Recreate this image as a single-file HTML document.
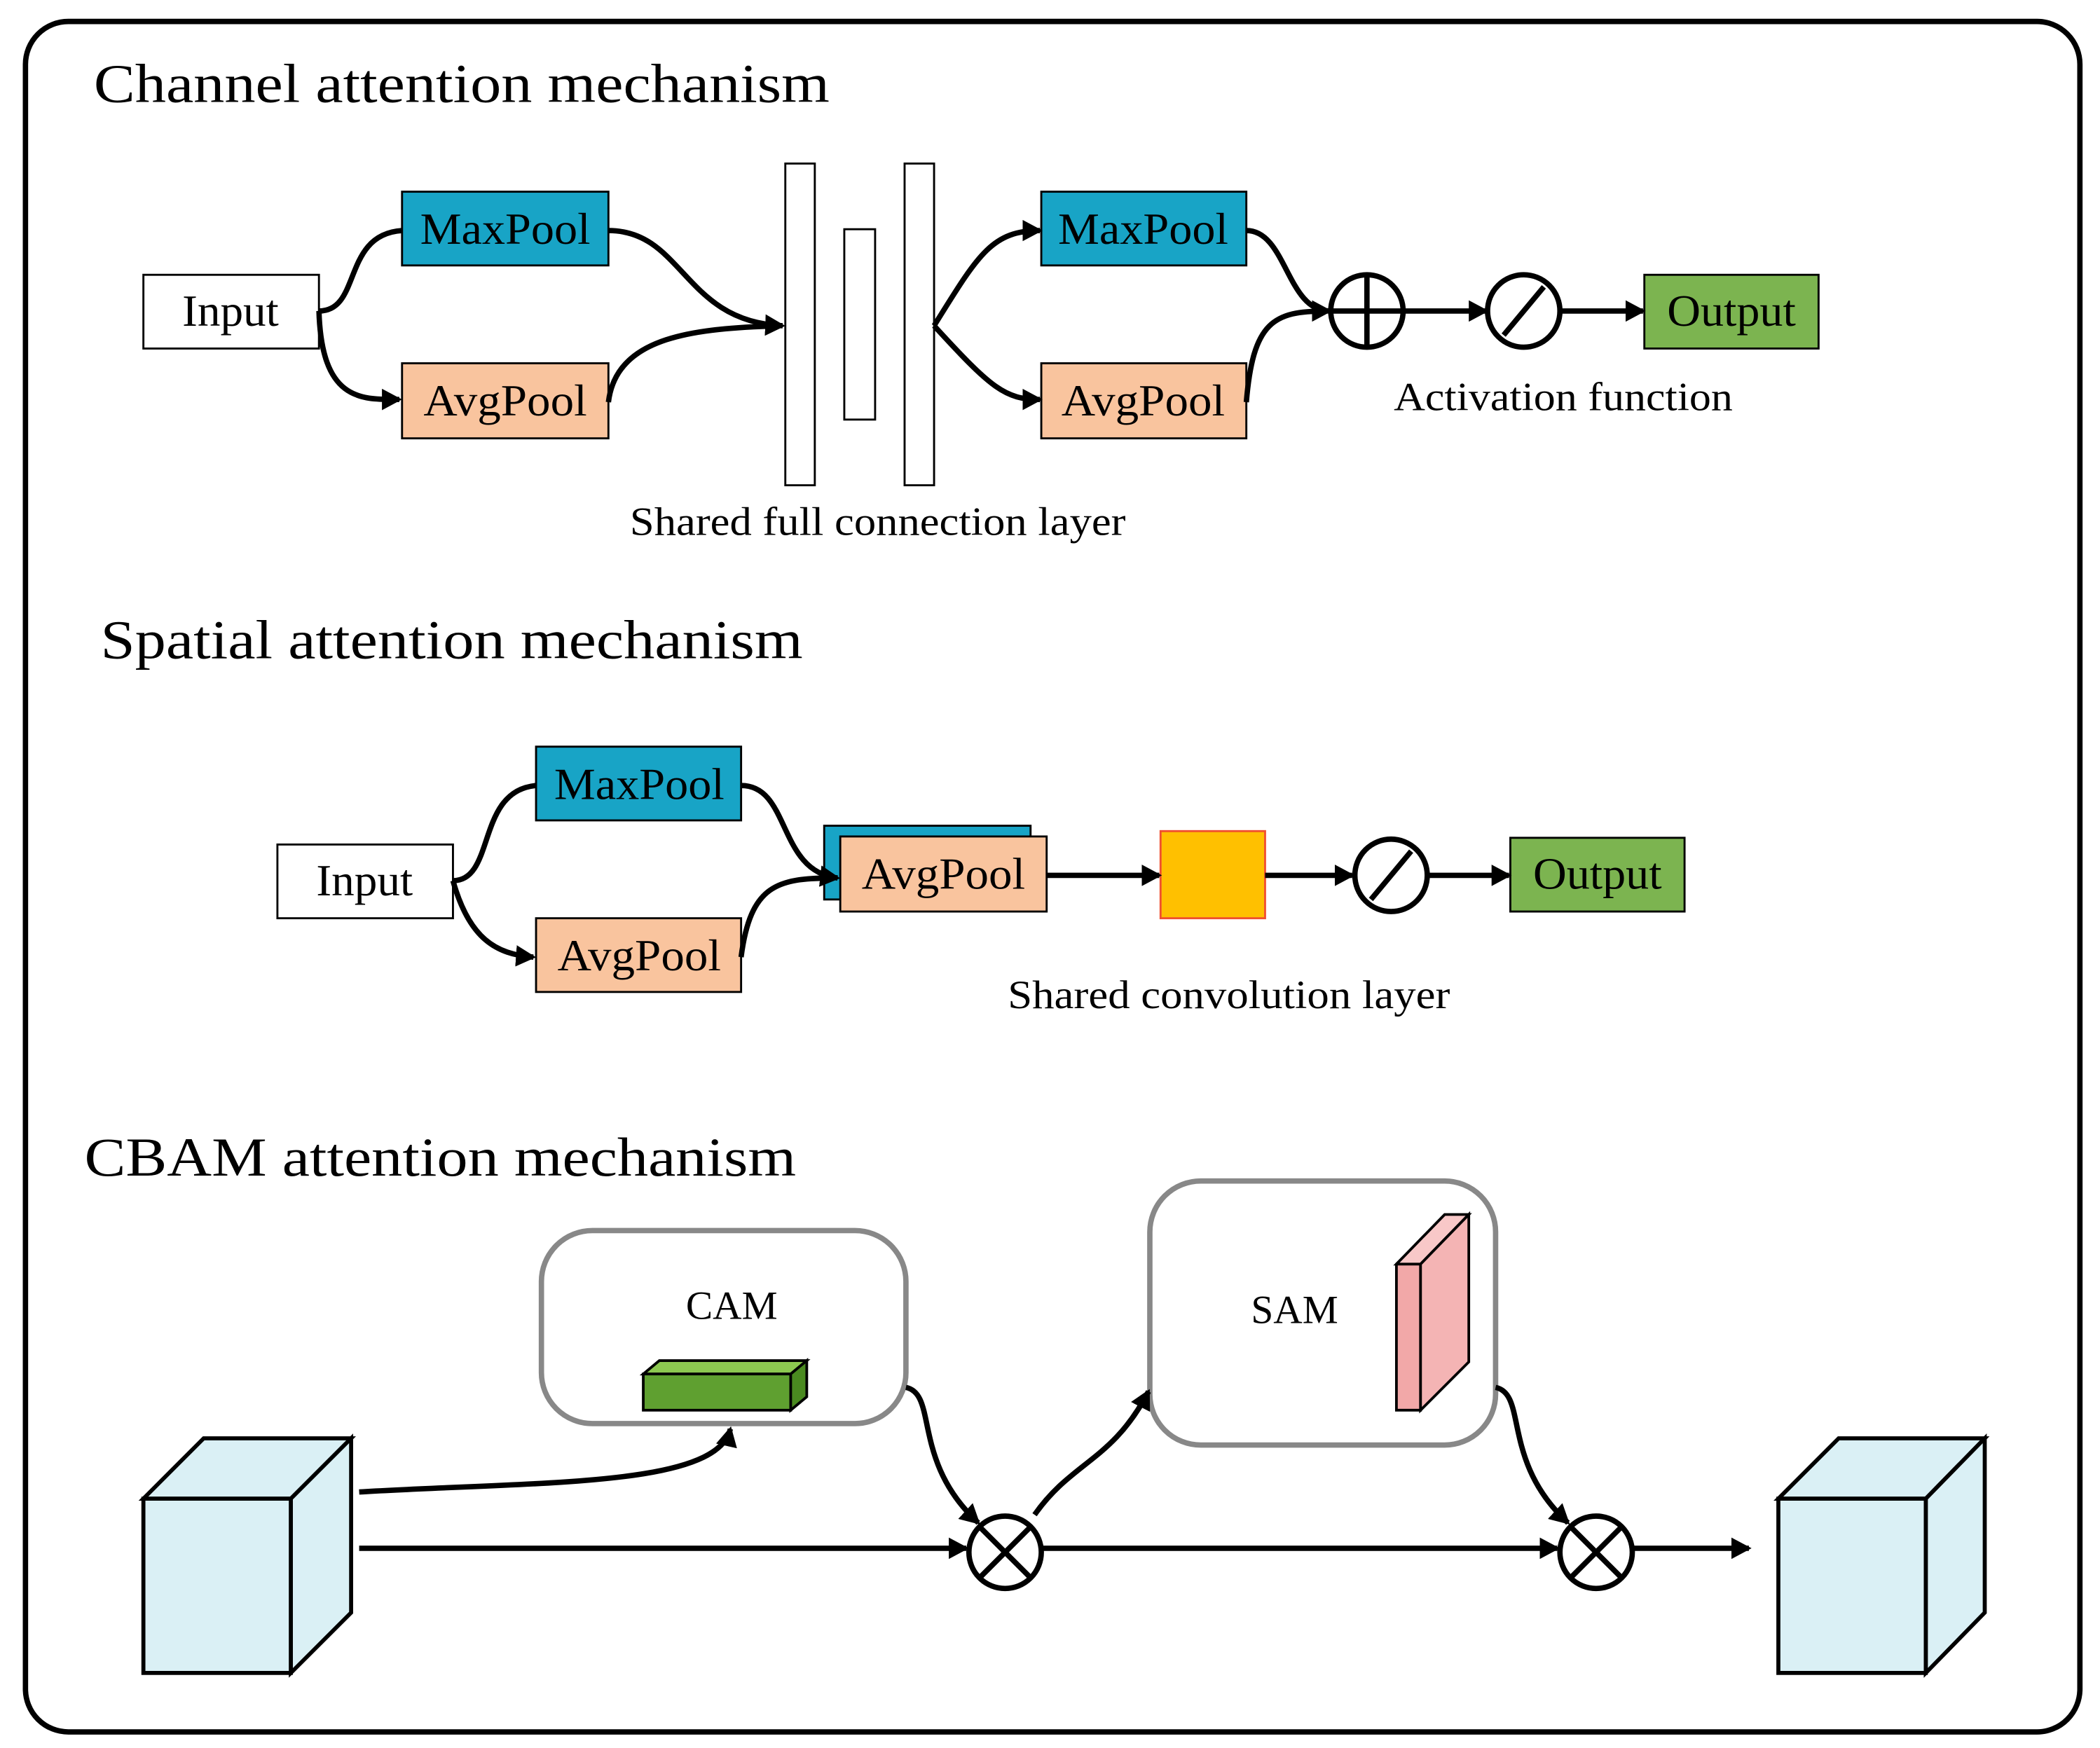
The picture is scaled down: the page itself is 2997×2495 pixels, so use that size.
<!DOCTYPE html>
<html><head><meta charset="utf-8"><style>
html,body{margin:0;padding:0;background:#fff;}
svg{display:block;}
text{font-family:"Liberation Serif",serif;fill:#000;}
</style></head><body>
<svg width="2997" height="2495" viewBox="0 0 1567 1304" preserveAspectRatio="none" xmlns="http://www.w3.org/2000/svg">
<defs>
<marker id="a" markerWidth="16" markerHeight="16" refX="13" refY="8" orient="auto" markerUnits="userSpaceOnUse">
<path d="M0,0 L15,8 L0,16 Z" fill="#000"/></marker>
</defs>
<rect x="19" y="16" width="1533" height="1276" rx="32" fill="#fff" stroke="#000" stroke-width="4"/>

<text x="70" y="76" font-size="41" textLength="549" lengthAdjust="spacingAndGlyphs">Channel attention mechanism</text>
<g stroke="#000" stroke-width="1.5">
<rect x="107" y="205" width="131" height="55" fill="#fff"/>
<rect x="300" y="143" width="154" height="55" fill="#18a4c6"/>
<rect x="300" y="271" width="154" height="56" fill="#f9c49e"/>
<rect x="586" y="122" width="22" height="240" fill="#fff"/>
<rect x="630" y="171" width="23" height="142" fill="#fff"/>
<rect x="675" y="122" width="22" height="240" fill="#fff"/>
<rect x="777" y="143" width="153" height="55" fill="#18a4c6"/>
<rect x="777" y="271" width="153" height="56" fill="#f9c49e"/>
<rect x="1227" y="205" width="130" height="55" fill="#7cb450"/>
</g>
<g font-size="33" text-anchor="middle">
<text x="172" y="243" textLength="72" lengthAdjust="spacingAndGlyphs">Input</text>
<text x="377" y="182" textLength="127" lengthAdjust="spacingAndGlyphs">MaxPool</text>
<text x="377" y="310" textLength="122" lengthAdjust="spacingAndGlyphs">AvgPool</text>
<text x="853" y="182" textLength="127" lengthAdjust="spacingAndGlyphs">MaxPool</text>
<text x="853" y="310" textLength="122" lengthAdjust="spacingAndGlyphs">AvgPool</text>
<text x="1292" y="243" textLength="96" lengthAdjust="spacingAndGlyphs">Output</text>
</g>
<g fill="none" stroke="#000" stroke-width="4">
<path d="M238,232 C270,232 255,175 300,172" />
<path d="M238,232 C240,300 270,298 298,298" marker-end="url(#a)"/>
<path d="M454,172 C510,172 510,240 584,243" marker-end="url(#a)"/>
<path d="M454,300 C460,250 520,245 582,243"/>
<path d="M697,243 C730,190 740,172 776,172" marker-end="url(#a)"/>
<path d="M697,243 C740,290 750,298 776,298" marker-end="url(#a)"/>
<path d="M930,172 C960,172 960,232 992,232" marker-end="url(#a)"/>
<path d="M930,300 C935,240 950,232 990,232"/>
<circle cx="1020" cy="232" r="27" fill="#fff"/>
<path d="M993,232 H1047 M1020,205 V259"/>
<path d="M1047,232 H1109" marker-end="url(#a)"/>
<circle cx="1137" cy="232" r="27" fill="#fff"/>
<path d="M1122,250 L1152,214"/>
<path d="M1164,232 H1226" marker-end="url(#a)"/>
</g>
<text x="1040" y="306" font-size="30" textLength="253" lengthAdjust="spacingAndGlyphs">Activation function</text>
<text x="470" y="399" font-size="30" textLength="370" lengthAdjust="spacingAndGlyphs">Shared full connection layer</text>

<text x="75" y="491" font-size="41" textLength="524" lengthAdjust="spacingAndGlyphs">Spatial attention mechanism</text>
<g stroke="#000" stroke-width="1.5">
<rect x="207" y="630" width="131" height="55" fill="#fff"/>
<rect x="400" y="557" width="153" height="55" fill="#18a4c6"/>
<rect x="400" y="685" width="153" height="55" fill="#f9c49e"/>
<rect x="615" y="616" width="154" height="55" fill="#18a4c6"/>
<rect x="627" y="624" width="154" height="56" fill="#f9c49e"/>
<rect x="1127" y="625" width="130" height="55" fill="#7cb450"/>
</g>
<rect x="866" y="620" width="78" height="65" fill="#ffc000" stroke="#f05030" stroke-width="1.5"/>
<g font-size="33" text-anchor="middle">
<text x="272" y="668" textLength="72" lengthAdjust="spacingAndGlyphs">Input</text>
<text x="477" y="596" textLength="127" lengthAdjust="spacingAndGlyphs">MaxPool</text>
<text x="477" y="724" textLength="122" lengthAdjust="spacingAndGlyphs">AvgPool</text>
<text x="704" y="663" textLength="122" lengthAdjust="spacingAndGlyphs">AvgPool</text>
<text x="1192" y="663" textLength="96" lengthAdjust="spacingAndGlyphs">Output</text>
</g>
<g fill="none" stroke="#000" stroke-width="4">
<path d="M338,657 C370,657 355,590 400,586"/>
<path d="M338,657 C350,700 370,712 398,714" marker-end="url(#a)"/>
<path d="M553,586 C590,586 580,650 625,655" marker-end="url(#a)"/>
<path d="M553,714 C560,660 580,655 622,655"/>
<path d="M781,653 H865" marker-end="url(#a)"/>
<path d="M944,653 H1009" marker-end="url(#a)"/>
<circle cx="1038" cy="653" r="27" fill="#fff"/>
<path d="M1023,671 L1053,635"/>
<path d="M1065,653 H1126" marker-end="url(#a)"/>
</g>
<text x="752" y="752" font-size="30" textLength="330" lengthAdjust="spacingAndGlyphs">Shared convolution layer</text>

<text x="63" y="877" font-size="41" textLength="531" lengthAdjust="spacingAndGlyphs">CBAM attention mechanism</text>
<rect x="404" y="918" width="272" height="144" rx="38" fill="#fff" stroke="#888" stroke-width="4"/>
<rect x="858" y="881" width="258" height="197" rx="38" fill="#fff" stroke="#888" stroke-width="4"/>
<text x="546" y="984" font-size="30" text-anchor="middle">CAM</text>
<text x="966" y="987" font-size="30" text-anchor="middle">SAM</text>
<g stroke="#000" stroke-width="2">
<polygon points="480,1025 492,1015 602,1015 590,1025" fill="#8cc850"/>
<rect x="480" y="1025" width="110" height="27" fill="#5fa030"/>
<polygon points="590,1025 602,1015 602,1042 590,1052" fill="#4a8a20"/>
<polygon points="1042,943 1060,925 1060,1052 1042,1052" fill="#f2a8a8"/>
<polygon points="1042,943 1078,906 1096,906 1060,943" fill="#f8c8c8"/>
<polygon points="1060,943 1096,906 1096,1016 1060,1052" fill="#f4b4b4"/>
</g>
<g stroke="#000" stroke-width="3" fill="#daf0f5">
<polygon points="107,1118 152,1073 262,1073 217,1118"/>
<polygon points="217,1118 262,1073 262,1203 217,1248"/>
<rect x="107" y="1118" width="110" height="130"/>
<polygon points="1327,1118 1372,1073 1481,1073 1437,1118"/>
<polygon points="1437,1118 1481,1073 1481,1203 1437,1248"/>
<rect x="1327" y="1118" width="110" height="130"/>
</g>
<g fill="none" stroke="#000" stroke-width="4">
<path d="M268,1113 C400,1105 535,1110 545,1066" marker-end="url(#a)"/>
<path d="M268,1155 H721" marker-end="url(#a)"/>
<circle cx="750" cy="1158" r="27" fill="#fff"/>
<path d="M731,1139 L769,1177 M769,1139 L731,1177"/>
<path d="M777,1155 H1162" marker-end="url(#a)"/>
<circle cx="1191" cy="1158" r="27" fill="#fff"/>
<path d="M1172,1139 L1210,1177 M1210,1139 L1172,1177"/>
<path d="M1218,1155 H1305" marker-end="url(#a)"/>
<path d="M676,1035 C700,1040 680,1090 730,1136" marker-end="url(#a)"/>
<path d="M772,1130 C800,1090 830,1090 857,1038" marker-end="url(#a)"/>
<path d="M1116,1035 C1140,1040 1120,1090 1170,1136" marker-end="url(#a)"/>
</g>
</svg>
</body></html>
